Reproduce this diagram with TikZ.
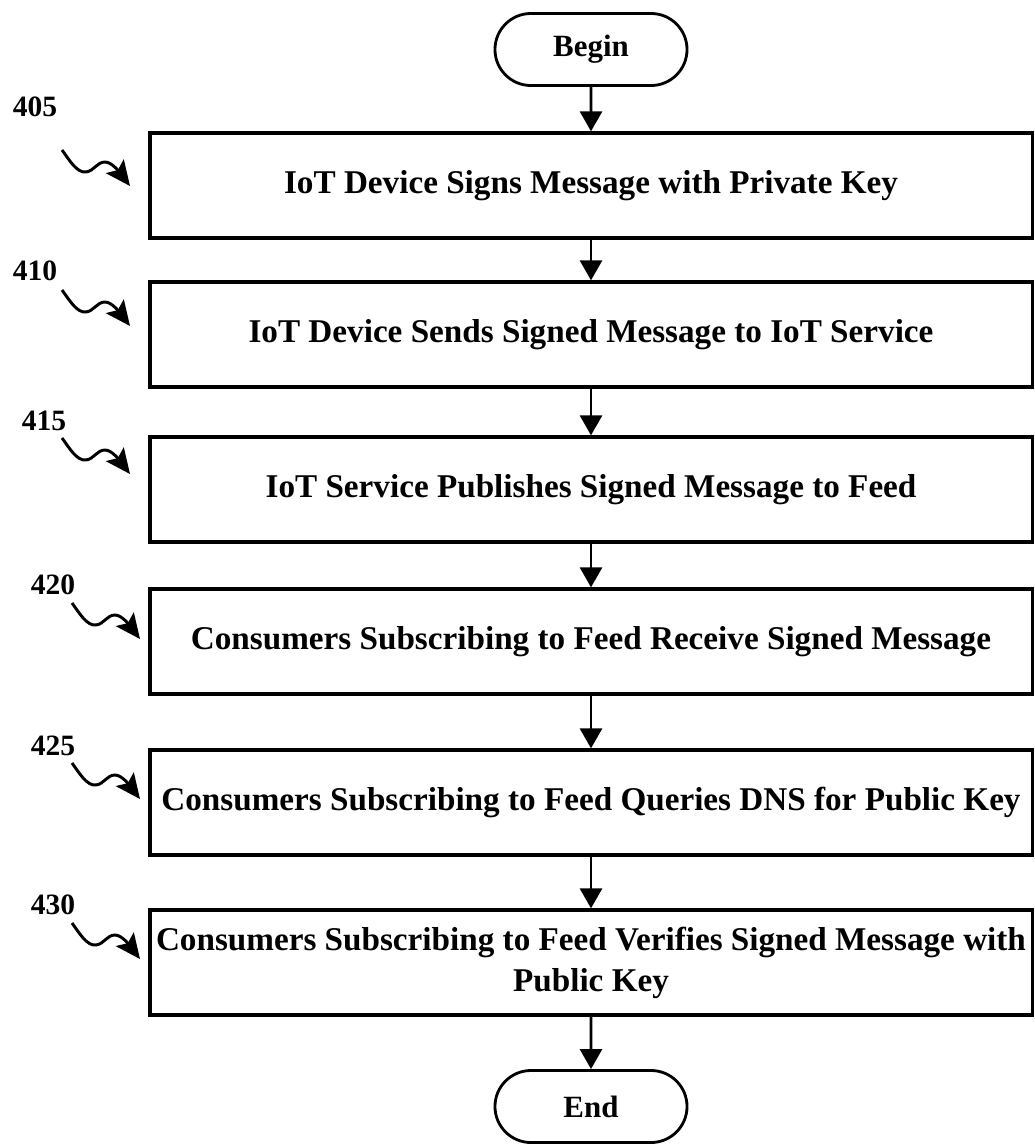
\documentclass[tikz,border=0pt]{standalone}
\usepackage{fontspec}
\setmainfont{Liberation Serif}
\usetikzlibrary{arrows.meta,shapes.misc}

\begin{document}
\begin{tikzpicture}[x=0.025cm,y=-0.025cm,
    stepbox/.style={draw,line width=2.3pt,minimum width=22.05cm,minimum height=2.625cm,inner sep=0pt,align=center,font=\fontsize{23.6}{29}\selectfont\bfseries},
    terminal/.style={draw,rounded rectangle,line width=2pt,minimum width=4.8cm,minimum height=1.8cm,inner sep=0pt,font=\fontsize{22}{26}\selectfont\bfseries},
    refnum/.style={font=\fontsize{21}{25}\selectfont\bfseries},
    flow/.style={line width=2.1pt,-{Triangle[length=0.5cm,width=0.55cm]}},
    squiggle/.style={line width=2.1pt,-{Stealth[length=0.62cm,width=0.56cm,inset=0.12cm]}}]
            \useasboundingbox (0,0) rectangle (1034,1144);
            \node[terminal] (begin) at (591,49.5) {Begin};
            \node[stepbox] (s405) at (591,185.5) {IoT Device Signs Message with Private Key};
            \node[stepbox] (s410) at (591,334.5) {IoT Device Sends Signed Message to IoT Service};
            \node[stepbox] (s415) at (591,489.5) {IoT Service Publishes Signed Message to Feed};
            \node[stepbox] (s420) at (591,641.5) {Consumers Subscribing to Feed Receive Signed Message};
            \node[stepbox] (s425) at (591,802.5) {Consumers Subscribing to Feed Queries DNS for Public Key};
            \node[stepbox] (s430) at (591,962.5) {Consumers Subscribing to Feed Verifies Signed Message with\\Public Key};
            \node[terminal] (end) at (591,1106.5) {End};
            \draw[flow] (begin) -- (s405);
            \draw[flow] (s405) -- (s410);
            \draw[flow] (s410) -- (s415);
            \draw[flow] (s415) -- (s420);
            \draw[flow] (s420) -- (s425);
            \draw[flow] (s425) -- (s430);
            \draw[flow] (s430) -- (end);
            \node[refnum] (n405) at (35,107) {405};
            \node[refnum] (n410) at (35,271) {410};
            \node[refnum] (n415) at (44,421) {415};
            \node[refnum] (n420) at (53,585) {420};
            \node[refnum] (n425) at (53,746) {425};
            \node[refnum] (n430) at (53,905) {430};
            \draw[squiggle,shift={(62,150)}] (0,0) .. controls (8,11) and (15,23) .. (24,22) .. controls (32,21) and (35,12) .. (43,12) .. controls (50,12) and (58,23) .. (68,36);
            \draw[squiggle,shift={(62,290)}] (0,0) .. controls (8,11) and (15,23) .. (24,22) .. controls (32,21) and (35,12) .. (43,12) .. controls (50,12) and (58,23) .. (68,36);
            \draw[squiggle,shift={(62,438)}] (0,0) .. controls (8,11) and (15,23) .. (24,22) .. controls (32,21) and (35,12) .. (43,12) .. controls (50,12) and (58,23) .. (68,36);
            \draw[squiggle,shift={(72,603)}] (0,0) .. controls (8,11) and (15,23) .. (24,22) .. controls (32,21) and (35,12) .. (43,12) .. controls (50,12) and (58,23) .. (68,36);
            \draw[squiggle,shift={(72,763)}] (0,0) .. controls (8,11) and (15,23) .. (24,22) .. controls (32,21) and (35,12) .. (43,12) .. controls (50,12) and (58,23) .. (68,36);
            \draw[squiggle,shift={(72,923)}] (0,0) .. controls (8,11) and (15,23) .. (24,22) .. controls (32,21) and (35,12) .. (43,12) .. controls (50,12) and (58,23) .. (68,36);
        \end{tikzpicture}
\end{document}
